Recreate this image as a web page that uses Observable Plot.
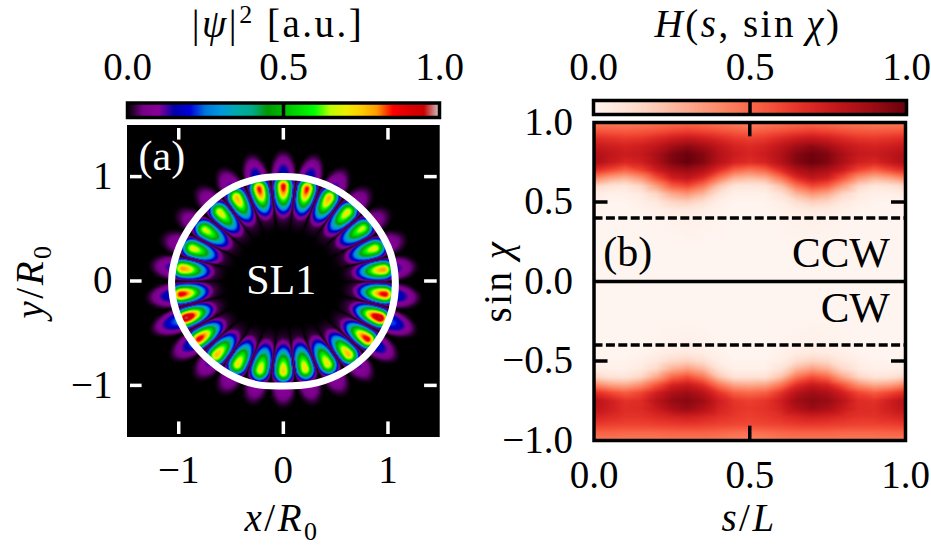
<!DOCTYPE html>
<html>
<head>
<meta charset="utf-8">
<script src="https://cdn.jsdelivr.net/npm/d3@7"></script>
<script src="https://cdn.jsdelivr.net/npm/@observablehq/plot@0.6"></script>
<style>
  html, body { margin: 0; background: white; }
  #fig { position: relative; width: 931px; height: 550px; overflow: hidden; }
  #fig svg { position: absolute; left: 0; top: 0; }
  .lab { position: absolute; font-family: "Liberation Serif", serif; font-size: 39px; line-height: 1; letter-spacing: 2.5px; white-space: nowrap; transform: translate(-50%, 0); color: black; }
  .lab.rot { transform: translate(-50%, -50%) rotate(-90deg); }
  .lab sub { font-size: 26px; line-height: 0; }
  .lab sup { font-size: 26px; line-height: 0; }
</style>
</head>
<body>
<div id="fig">
  <div class="lab" style="left:278px;top:4px">|<i>ψ</i>|<sup>2</sup>&nbsp;[a.u.]</div>
  <div class="lab" style="left:748px;top:4px"><i>H</i>(<i>s</i>, sin&thinsp;<i>χ</i>)</div>
  <div class="lab" style="left:282px;top:498px"><i>x</i>/<i>R</i><sub>0</sub></div>
  <div class="lab" style="left:749px;top:498px"><i>s</i>/<i>L</i></div>
  <div class="lab rot" style="left:29px;top:281px"><i>y</i>/<i>R</i><sub>0</sub></div>
  <div class="lab rot" style="left:497px;top:281px">sin&thinsp;<i>χ</i></div>
</div>
<script>
// panel (a): lobes of the mode
const lobeX = [0, .225, .438, .614, .760, .875, .958, .973, .923, .805, .623, .423, .208, 0, -.222, -.438, -.639, -.808, -.932, -.980, -.964, -.868, -.748, -.607, -.445, -.231]
const lobeY = [.908, .883, .797, .660, .504, .313, .109, -.127, -.354, -.557, -.704, -.796, -.844, -.870, -.854, -.799, -.710, -.557, -.354, -.127, .119, .313, .491, .660, .797, .883]
const lobePeak = [.87, .86, .78, .71, .67, .70, .80, .88, .96, .88, .77, .72, .72, .74, .71, .72, .77, .88, .97, .88, .80, .70, .68, .71, .77, .86]

// cavity boundary, radius every 15 degrees
const boundaryAngle = d3.range(0, 360, 15)
const boundaryRadius = [1.07, 1.058, 1.033, 1.015, 1.01, 1.006, 1.0, 1.01, 1.02, 1.022, 1.032, 1.052, 1.068, 1.065, 1.05, 1.038, 1.033, 1.025, 1.005, 1.022, 1.04, 1.06, 1.07, 1.075]

const spectralStops = [0, .05, .1, .15, .2, .25, .3, .35, .4, .45, .5, .55, .6, .65, .7, .75, .8, .85, .9, .95, 1]
const spectralColors = ["#000000", "#770088", "#880099", "#0000aa", "#0000dd", "#0077dd", "#0099dd", "#00aaaa", "#00aa88", "#009900", "#00bb00", "#00dd00", "#00ff00", "#bbff00", "#eeee00", "#ffcc00", "#ff9900", "#ff0000", "#dd0000", "#cc0000", "#cccccc"]

// panel (b): Husimi values, one row per sinChi
const sValues = [0, .05, .1, .15, .2, .25, .3, .35, .4, .45, .5, .55, .6, .65, .7, .75, .8, .85, .9, .95, 1]
const sinChi = [1, .95, .9, .85, .8, .75, .7, .65, .6, .55, .5, .45, .4, .2, 0, -.2, -.4, -.45, -.5, -.55, -.6, -.65, -.7, -.75, -.8, -.85, -.9, -.95, -1]
const husimi = [
  [.44, .44, .44, .45, .46, .48, .49, .48, .46, .44, .42, .44, .46, .48, .49, .48, .46, .45, .44, .44, .44],
  [.55, .54, .53, .54, .56, .59, .61, .59, .56, .53, .51, .53, .56, .59, .61, .59, .56, .54, .53, .54, .55],
  [.68, .66, .64, .65, .69, .74, .77, .74, .69, .64, .62, .64, .69, .74, .77, .74, .69, .65, .64, .66, .68],
  [.77, .74, .72, .74, .79, .87, .92, .87, .79, .72, .69, .72, .79, .87, .92, .87, .79, .74, .72, .74, .77],
  [.84, .79, .75, .77, .85, .95, .99, .94, .83, .75, .71, .75, .83, .94, .98, .95, .85, .77, .75, .79, .84],
  [.85, .77, .70, .73, .84, .95, 1.0, .94, .82, .72, .68, .72, .82, .94, .99, .95, .84, .73, .70, .77, .85],
  [.68, .60, .52, .60, .74, .85, .89, .83, .68, .52, .46, .52, .68, .83, .89, .85, .74, .60, .52, .60, .68],
  [.42, .32, .27, .36, .56, .73, .78, .68, .46, .28, .24, .28, .46, .68, .78, .73, .56, .36, .27, .32, .42],
  [.15, .10, .08, .15, .33, .53, .59, .46, .22, .09, .08, .09, .22, .46, .59, .53, .33, .15, .08, .10, .15],
  [.05, .03, .03, .06, .15, .30, .36, .26, .10, .03, .03, .03, .10, .26, .36, .30, .15, .06, .03, .03, .05],
  [.02, .01, .01, .03, .07, .15, .18, .12, .04, .01, .01, .01, .04, .12, .18, .15, .07, .03, .01, .01, .02],
  [.01, 0, 0, .01, .03, .06, .07, .05, .02, 0, 0, 0, .02, .05, .07, .06, .03, .01, 0, 0, .01],
  [0, 0, 0, 0, .01, .02, .03, .02, .01, 0, 0, 0, .01, .02, .03, .02, .01, 0, 0, 0, 0],
  [0, 0, 0, 0, 0, 0, 0, 0, 0, 0, 0, 0, 0, 0, 0, 0, 0, 0, 0, 0, 0],
  [0, 0, 0, 0, 0, 0, 0, 0, 0, 0, 0, 0, 0, 0, 0, 0, 0, 0, 0, 0, 0],
  [0, 0, 0, 0, 0, 0, 0, 0, 0, 0, 0, 0, 0, 0, 0, 0, 0, 0, 0, 0, 0],
  [0, 0, 0, 0, .01, .02, .03, .02, .01, 0, 0, 0, .01, .02, .03, .02, .01, 0, 0, 0, 0],
  [.01, 0, 0, .01, .03, .06, .07, .05, .02, 0, 0, 0, .02, .05, .07, .06, .03, .01, 0, 0, .01],
  [.02, .01, .01, .03, .07, .14, .17, .12, .04, .01, .01, .01, .04, .12, .17, .14, .07, .03, .01, .01, .02],
  [.05, .03, .03, .06, .14, .28, .34, .26, .10, .03, .03, .03, .10, .26, .34, .28, .14, .06, .03, .03, .05],
  [.16, .10, .09, .15, .30, .50, .57, .46, .22, .10, .10, .10, .22, .46, .57, .50, .30, .15, .09, .10, .16],
  [.42, .33, .30, .38, .55, .71, .76, .67, .46, .32, .30, .32, .46, .67, .76, .71, .55, .38, .30, .33, .42],
  [.68, .60, .54, .60, .73, .84, .88, .81, .66, .53, .50, .53, .66, .81, .88, .84, .73, .60, .54, .60, .68],
  [.82, .74, .66, .68, .80, .90, .93, .88, .74, .65, .62, .65, .74, .88, .92, .90, .80, .68, .66, .74, .82],
  [.80, .74, .68, .69, .76, .85, .90, .83, .72, .66, .64, .66, .72, .83, .89, .85, .76, .69, .68, .74, .80],
  [.72, .69, .66, .66, .69, .72, .74, .71, .67, .64, .62, .64, .67, .71, .74, .72, .69, .66, .66, .69, .72],
  [.63, .62, .61, .61, .62, .63, .64, .63, .61, .60, .59, .60, .61, .63, .64, .63, .62, .61, .61, .62, .63],
  [.52, .52, .51, .51, .51, .52, .52, .52, .51, .49, .48, .49, .51, .52, .52, .52, .51, .51, .51, .52, .52],
  [.45, .45, .45, .45, .45, .46, .46, .46, .45, .43, .42, .43, .45, .46, .46, .46, .45, .45, .45, .45, .45]
]
const husimiCells = sinChi.flatMap((v, i) => sValues.map((s, j) => ({s, v, h: husimi[i][j]})))

const positionTicks = [-1, 0, 1]
const halfTicks = [-.5, .5]
const barTicks = [0, .5, 1]
const sinTicks = [-1, -.5, 0, .5, 1]

const serif = "'Liberation Serif', serif"
const fontSize = 39
const baseStyle = {background: "transparent", fontFamily: serif, fontSize: fontSize + "px", overflow: "visible"}
const minus = s => s.replace("-", "\u2212")
const fig = document.getElementById("fig")

// reconstruct |psi|^2 from the lobe table: each lobe owns the angular sector around it
const lobeAngle = lobeX.map((x, i) => Math.atan2(lobeY[i], x))
const order = d3.range(lobeX.length).sort((a, b) => lobeAngle[a] - lobeAngle[b])
const wrap = a => Math.atan2(Math.sin(a), Math.cos(a))
const bump = u => u < 1 ? Math.cos(Math.PI / 2 * u) ** 2 : 0

function boundaryAt(phi) {
  let deg = phi * 180 / Math.PI
  if (deg < 0) deg += 360
  const i = Math.min(Math.floor(deg / 15), 23)
  const t = deg / 15 - i
  return boundaryRadius[i] * (1 - t) + boundaryRadius[(i + 1) % 24] * t
}

function modeField(x, y) {
  const r = Math.hypot(x, y)
  const phi = Math.atan2(y, x)
  let k = 0, best = 9
  order.forEach((o, n) => {
    const d = Math.abs(wrap(phi - lobeAngle[o]))
    if (d < best) { best = d; k = n }
  })
  const o = order[k]
  const p = lobePeak[o]
  const d = wrap(phi - lobeAngle[o])
  const other = order[(k + (d > 0 ? 1 : order.length - 1)) % order.length]
  const half = Math.abs(wrap(lobeAngle[other] - lobeAngle[o])) / 2
  const edge = Math.min(1, (1 - Math.abs(d) / half) * 5)
  const tau = r * Math.abs(Math.sin(d))
  const rho = r - Math.hypot(lobeX[o], lobeY[o])
  const a = rho < 0 ? .36 : .16
  const u = Math.hypot(rho / a, tau / .14)
  // core plus the faint purple tail running inward
  const inside = p * Math.max(bump(u), .13 * bump(Math.hypot(rho / (a * 1.3), tau / .18)))
  const rb = boundaryAt(phi)
  if (r <= rb) return inside * edge
  // leaky part outside the cavity
  const amp = .17 * (p / .85) ** 3
  const reach = .18 + .1 * amp / .17
  const leak = amp * bump(Math.hypot((r - rb) / reach, tau / .15))
  return Math.max(inside, leak) * edge
}

const spectral = {type: "linear", domain: spectralStops, range: spectralColors}
const reds = {type: "linear", scheme: "reds", domain: [0, 1]}

// panel (a)
const panelA = Plot.plot({
  width: 470, height: 550,
  marginLeft: 128, marginRight: 32.3, marginTop: 126, marginBottom: 115,
  x: {domain: [-1.48, 1.48]},
  y: {domain: [-1.48, 1.48]},
  color: spectral,
  style: baseStyle,
  marks: [
    Plot.raster({fill: modeField, x1: -1.48, x2: 1.48, y1: -1.48, y2: 1.48, pixelSize: 1}),
    Plot.line(boundaryAngle.map((a, i) => ({a, r: boundaryRadius[i]})), {
      x: d => d.r * Math.cos(d.a * Math.PI / 180),
      y: d => d.r * Math.sin(d.a * Math.PI / 180),
      curve: "catmull-rom-closed", stroke: "white", strokeWidth: 7
    }),
    Plot.ruleX(positionTicks, {y1: 1.48, y2: 1.35, stroke: "white", strokeWidth: 3.5}),
    Plot.ruleX(positionTicks, {y1: -1.48, y2: -1.35, stroke: "white", strokeWidth: 3.5}),
    Plot.ruleY(positionTicks, {x1: -1.48, x2: -1.35, stroke: "white", strokeWidth: 3.5}),
    Plot.ruleY(positionTicks, {x1: 1.48, x2: 1.35, stroke: "white", strokeWidth: 3.5}),
    Plot.frame({stroke: "black", strokeWidth: 3}),
    Plot.text(["(a)"], {frameAnchor: "top-left", dx: 10, dy: 14, fill: "white", fontSize: 42, lineAnchor: "top", textAnchor: "start"}),
    Plot.text(["SL1"], {x: -.02, y: 0, fill: "white", fontSize: 42}),
    Plot.axisX(positionTicks, {anchor: "bottom", tickSize: 0, tickPadding: 20, fontSize, label: null, tickFormat: d => minus(String(d))}),
    Plot.axisY(positionTicks, {anchor: "left", tickSize: 0, tickPadding: 16, fontSize, label: null, tickFormat: d => minus(String(d))})
  ]
})

const barA = Plot.plot({
  width: 470, height: 550,
  marginLeft: 127, marginRight: 31, marginTop: 102.5, marginBottom: 433,
  x: {domain: [0, 1]}, y: {domain: [0, 1], axis: null},
  color: spectral,
  style: baseStyle,
  marks: [
    Plot.raster({fill: (x, y) => x, x1: 0, x2: 1, y1: 0, y2: 1, pixelSize: 1}),
    Plot.ruleX([.5], {stroke: "black", strokeWidth: 3.5}),
    Plot.frame({stroke: "black", strokeWidth: 3.5}),
    Plot.axisX(barTicks, {anchor: "top", tickSize: 0, tickPadding: 23, fontSize, label: null, tickFormat: d3.format(".1f")})
  ]
})

// panel (b)
const panelB = Plot.plot({
  width: 931, height: 550,
  marginLeft: 593.5, marginRight: 26, marginTop: 122, marginBottom: 110,
  x: {domain: [0, 1]},
  y: {domain: [-1, 1]},
  color: reds,
  style: baseStyle,
  marks: [
    Plot.raster(husimiCells, {x: "s", y: "v", fill: "h", x1: 0, x2: 1, y1: -1, y2: 1, pixelSize: 1, interpolate: "barycentric"}),
    Plot.ruleY([.4, -.4], {stroke: "black", strokeWidth: 3.5, strokeDasharray: "9 3.4"}),
    Plot.ruleY([0], {stroke: "black", strokeWidth: 3.5}),
    Plot.ruleX([.5], {y1: 1, y2: .91, stroke: "black", strokeWidth: 3.5}),
    Plot.ruleX([.5], {y1: -1, y2: -.91, stroke: "black", strokeWidth: 3.5}),
    Plot.ruleY(halfTicks, {x1: 0, x2: .045, stroke: "black", strokeWidth: 3.5}),
    Plot.ruleY(halfTicks, {x1: 1, x2: .955, stroke: "black", strokeWidth: 3.5}),
    Plot.frame({stroke: "black", strokeWidth: 3.5}),
    Plot.text(["(b)"], {x: .03, y: .18, text: d => d, textAnchor: "start", fontSize: 42}),
    Plot.text(["CCW"], {x: .95, y: .18, text: d => d, textAnchor: "end", fontSize: 43}),
    Plot.text(["CW"], {x: .95, y: -.17, text: d => d, textAnchor: "end", fontSize: 43}),
    Plot.axisX(barTicks, {anchor: "bottom", tickSize: 0, tickPadding: 20, fontSize, label: null, tickFormat: d3.format(".1f")}),
    Plot.axisY(sinTicks, {anchor: "left", tickSize: 0, tickPadding: 21, fontSize, label: null, tickFormat: d => minus(d3.format(".1f")(d))})
  ]
})

const barB = Plot.plot({
  width: 931, height: 550,
  marginLeft: 593, marginRight: 25, marginTop: 100, marginBottom: 436,
  x: {domain: [0, 1]}, y: {domain: [0, 1], axis: null},
  color: reds,
  style: baseStyle,
  marks: [
    Plot.raster({fill: (x, y) => x, x1: 0, x2: 1, y1: 0, y2: 1, pixelSize: 1}),
    Plot.ruleX([.5], {stroke: "black", strokeWidth: 3.5}),
    Plot.frame({stroke: "black", strokeWidth: 3.5}),
    Plot.axisX(barTicks, {anchor: "top", tickSize: 0, tickPadding: 21, fontSize, label: null, tickFormat: d3.format(".1f")})
  ]
})

fig.append(panelA, barA, panelB, barB)
</script>
</body>
</html>
